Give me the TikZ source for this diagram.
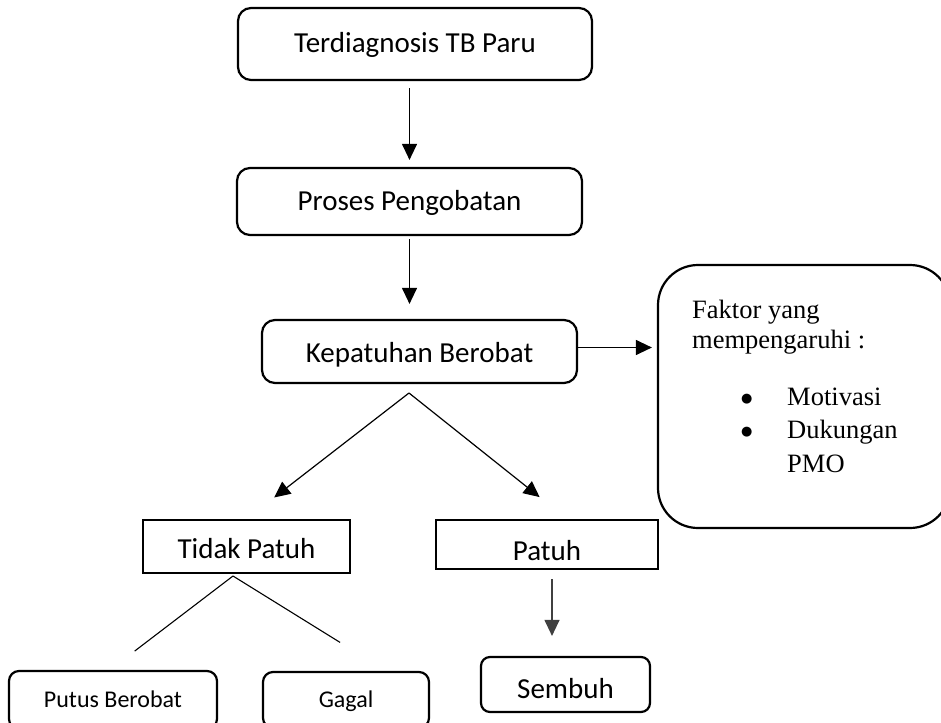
\documentclass[tikz,border=0pt]{standalone}
\usepackage{fontspec}
\setmainfont{Carlito}
\newfontfamily\timesfont{Liberation Serif}
\newfontfamily\symfont{DejaVu Sans}
\usetikzlibrary{arrows.meta, positioning}
\newcommand{\factbullet}{\makebox[47pt][l]{\hspace{1pt}\raisebox{2.5pt}{\symfont\fontsize{13}{13}\selectfont ●}}}
\tikzset{
  stage/.style={
    rectangle, rounded corners=13pt, draw=black, line width=2.2pt,
    inner sep=0pt, align=center, font=\fontsize{29}{34}\selectfont,
    text height=26pt, text depth=6pt
  },
  result/.style={
    rectangle, draw=black, line width=2.2pt,
    inner sep=0pt, align=center, font=\fontsize{29}{34}\selectfont,
    text height=29pt, text depth=6pt
  },
  ending/.style={
    rectangle, rounded corners=10pt, draw=black, line width=2.2pt,
    inner sep=0pt, align=center, font=\fontsize{24}{29}\selectfont,
    text height=19pt, text depth=5pt
  },
  factorbox/.style={
    rectangle, rounded corners=40pt, draw=black, line width=2.2pt,
    inner sep=0pt
  },
  factortext/.style={
    inner sep=0pt, anchor=base west, font=\timesfont\fontsize{26.5}{31}\selectfont
  },
  arrow/.style={-{Triangle[length=16pt,width=15pt]}, line width=1.2pt, draw=black},
  branch/.style={line width=1.1pt, draw=black}
}

\begin{document}
\begin{tikzpicture}[x=1pt, y=-1pt]
\useasboundingbox (0,0) rectangle (941,722);

% Main flow
\node[stage, minimum width=354pt, minimum height=72pt, text height=24pt] (diag) at (415,44) {Terdiagnosis TB Paru};
\node[stage, minimum width=345pt, minimum height=67pt, text height=23pt] (proses) at (409.5,201.5) {Proses Pengobatan};
\node[stage, minimum width=315pt, minimum height=63pt, text height=27pt] (kepatuhan) at (419.5,351.5) {Kepatuhan Berobat};

% Factors
\node[factorbox, minimum width=292pt, minimum height=263pt] (faktor) at (804,396.5) {};
\node[factortext] (fk1) at (692,318) {Faktor yang};
\node[factortext] (fk2) at (692,348) {mempengaruhi :};
\node[factortext] (motivasi) at (740,405) {\factbullet Motivasi};
\node[factortext] (dukungan) at (740,438) {\factbullet Dukungan};
\node[factortext] (pmo) at (787,472) {PMO};

% Outcomes
\node[result, minimum width=207pt, minimum height=53pt] (tidak) at (246.5,546.5) {Tidak Patuh};
\node[result, minimum width=222pt, minimum height=49pt, text height=37pt] (patuh) at (547,544.5) {Patuh};
\node[ending, minimum width=208pt, minimum height=58pt] (putus) at (113,700) {Putus Berobat};
\node[ending, minimum width=166pt, minimum height=56pt] (gagal) at (346,700) {Gagal};
\node[stage, rounded corners=9pt, minimum width=169pt, minimum height=55pt, text height=33pt] (sembuh) at (565.5,684.5) {Sembuh};

\coordinate (split) at (409,393);
\coordinate (tsplit) at (233,576);

% Arrows
\draw[arrow, shorten <=7pt, shorten >=7pt] (diag.south -| proses.north) -- (proses.north);
\draw[arrow, shorten <=3pt, shorten >=15pt] (proses.south) -- (proses.south |- kepatuhan.north);
\draw[arrow, shorten >=5pt] ([yshift=4pt]kepatuhan.east) -- ([yshift=4pt]kepatuhan.east -| faktor.west);
\draw[arrow, shorten >=35pt] (split) -- (tidak.north);
\draw[arrow, shorten >=35pt] (split) -- ([xshift=20pt]patuh.north);
\draw[branch, shorten >=31pt] (tsplit) -- ([xshift=-3pt]putus.north);
\draw[branch, shorten >=54pt] (tsplit) -- ([xshift=40pt]gagal.north);
\draw[arrow, draw=black!75, shorten <=9pt, shorten >=20pt] ([xshift=5pt]patuh.south) -- ([xshift=5pt]patuh.south |- sembuh.north);

\end{tikzpicture}
\end{document}
